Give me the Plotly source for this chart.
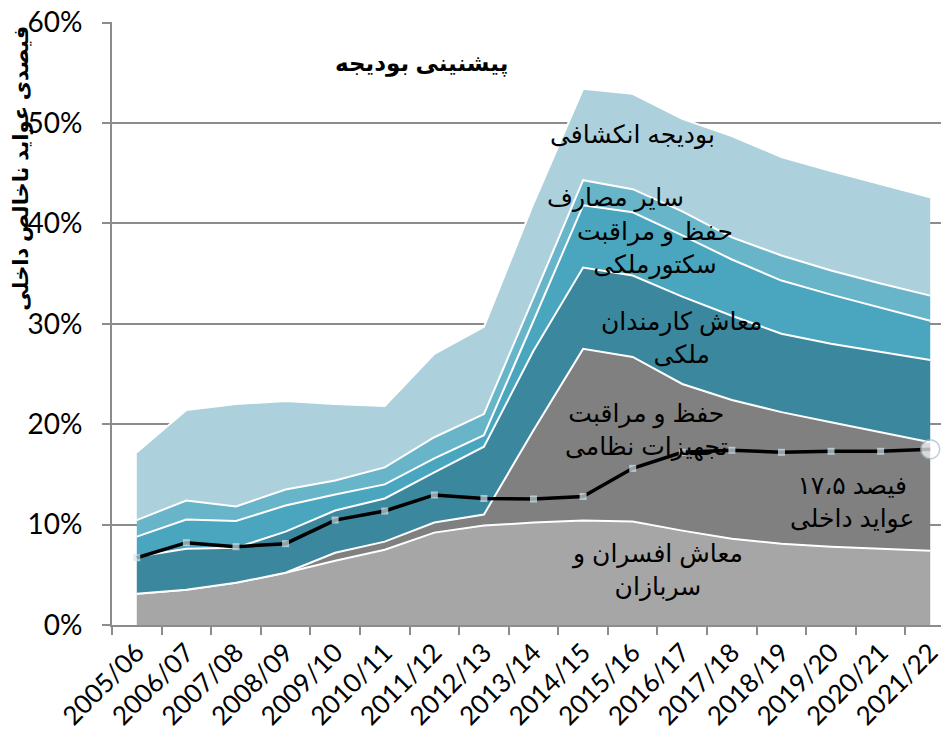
import plotly.graph_objects as go

years = ["2005/06", "2006/07", "2007/08", "2008/09", "2009/10", "2010/11",
         "2011/12", "2012/13", "2013/14", "2014/15", "2015/16", "2016/17",
         "2017/18", "2018/19", "2019/20", "2020/21", "2021/22"]

# percent of GDP, bottom layer first
soldier_salaries = [3.1, 3.5, 4.2, 5.2, 6.4, 7.5, 9.2, 9.9, 10.2, 10.4, 10.3,
                    9.4, 8.6, 8.1, 7.8, 7.6, 7.4]
military_om = [0, 0, 0, 0, 0.8, 0.8, 1.0, 1.1, 9.2, 17.1, 16.4, 14.6, 13.8,
               13.1, 12.4, 11.6, 10.8]
civil_salaries = [3.7, 4.1, 3.5, 4.1, 4.2, 4.3, 5.0, 6.75, 7.9, 8.1, 8.1, 8.7,
                  8.4, 7.8, 7.8, 8.0, 8.2]
civil_om = [2.0, 2.9, 2.65, 2.6, 1.6, 1.4, 1.4, 1.15, 3.0, 6.2, 6.3, 6.1, 5.6,
            5.3, 4.9, 4.4, 3.9]
other_exp = [1.65, 1.9, 1.45, 1.6, 1.4, 1.7, 2.1, 2.1, 2.3, 2.5, 2.3, 2.4, 2.2,
             2.5, 2.4, 2.4, 2.5]
development = [6.75, 9.0, 10.2, 8.8, 7.6, 6.1, 8.3, 8.7, 9.4, 9.1, 9.5, 9.2,
               10.1, 9.8, 9.9, 9.9, 9.8]
domestic_rev = [6.7, 8.2, 7.8, 8.1, 10.45, 11.35, 12.95, 12.6, 12.55, 12.8,
                15.6, 17.2, 17.4, 17.2, 17.3, 17.3, 17.5]

y_ticks = [0, 10, 20, 30, 40, 50, 60]

layers = [
    (soldier_salaries, "#A6A6A6"),
    (military_om, "#808080"),
    (civil_salaries, "#3B889E"),
    (civil_om, "#4AA6BE"),
    (other_exp, "#68B4C9"),
    (development, "#ADD1DC"),
]

fig = go.Figure()
for vals, col in layers:
    fig.add_trace(go.Scatter(x=years, y=vals, stackgroup="one", mode="lines",
                             line=dict(color="white", width=2),
                             fillcolor=col, hoverinfo="skip"))

n = len(years)
fig.add_trace(go.Scatter(
    x=years, y=domestic_rev, mode="lines+markers",
    line=dict(color="black", width=3.5),
    marker=dict(symbol=["square"] * (n - 1) + ["circle"],
                size=[7] * (n - 1) + [19],
                color=["#D3E5EC"] * (n - 1) + ["white"],
                line=dict(color=["#D3E5EC"] * (n - 1) + ["#9FBAC7"],
                          width=[0] * (n - 1) + [1.5]))))

afont = dict(family="Arial, DejaVu Sans", size=25, color="black")
labels = [
    ("بودیجه انکشافی", 9.99, 48.8),
    ("سایر مصارف", 9.66, 42.6),
    ("حفظ و مراقبت<br>سکتورملکی", 10.45, 37.5),
    ("معاش کارمندان<br>ملکی", 10.99, 28.6),
    ("حفظ و مراقبت<br>تجهیزات نظامی", 10.27, 19.4),
    ("۱۷،۵ فیصد<br>عواید داخلی", 14.42, 12.2),
    ("معاش افسران و<br>سربازان", 10.49, 5.5),
]
for txt, xi, yi in labels:
    fig.add_annotation(x=xi, y=yi, text=txt, showarrow=False, font=afont)

fig.add_annotation(x=5.75, y=55.9, text="<b>پیشنینی بودیجه</b>",
                   showarrow=False,
                   font=dict(family="Arial, DejaVu Sans", size=23,
                             color="black"))
fig.add_annotation(xref="paper", yref="paper", x=-0.108, y=0.758,
                   xanchor="center", yanchor="middle",
                   text="<b>فیصدی عواید ناخالص داخلی</b>", textangle=-90,
                   showarrow=False,
                   font=dict(family="Arial, DejaVu Sans", size=21,
                             color="black"))

fig.update_layout(
    width=949, height=751,
    margin=dict(l=104, r=0, t=14, b=134),
    paper_bgcolor="white", plot_bgcolor="white",
    showlegend=False,
    font=dict(family="Lato", color="black"),
)
fig.update_xaxes(type="category", range=[-0.5, 16.54], automargin=False,
                 tickson="boundaries", ticks="outside", ticklen=8,
                 tickcolor="#8C8C8C", tickwidth=2,
                 showline=True, linecolor="#8C8C8C", linewidth=2,
                 showgrid=False, tickangle=-45,
                 tickfont=dict(family="Lato", size=26, color="black"))
fig.update_yaxes(range=[0, 60.05], tickvals=y_ticks,
                 ticktext=[f"{v}%" for v in y_ticks], automargin=False,
                 ticklabeloverflow="allow",
                 ticks="outside", ticklen=8, ticklabelstandoff=14,
                 tickcolor="#8C8C8C", tickwidth=2,
                 showline=True, linecolor="#8C8C8C", linewidth=2,
                 showgrid=True, gridcolor="#8C8C8C", gridwidth=2,
                 zeroline=False,
                 tickfont=dict(family="Lato", size=28, color="black"))

fig.write_html("out.html")
